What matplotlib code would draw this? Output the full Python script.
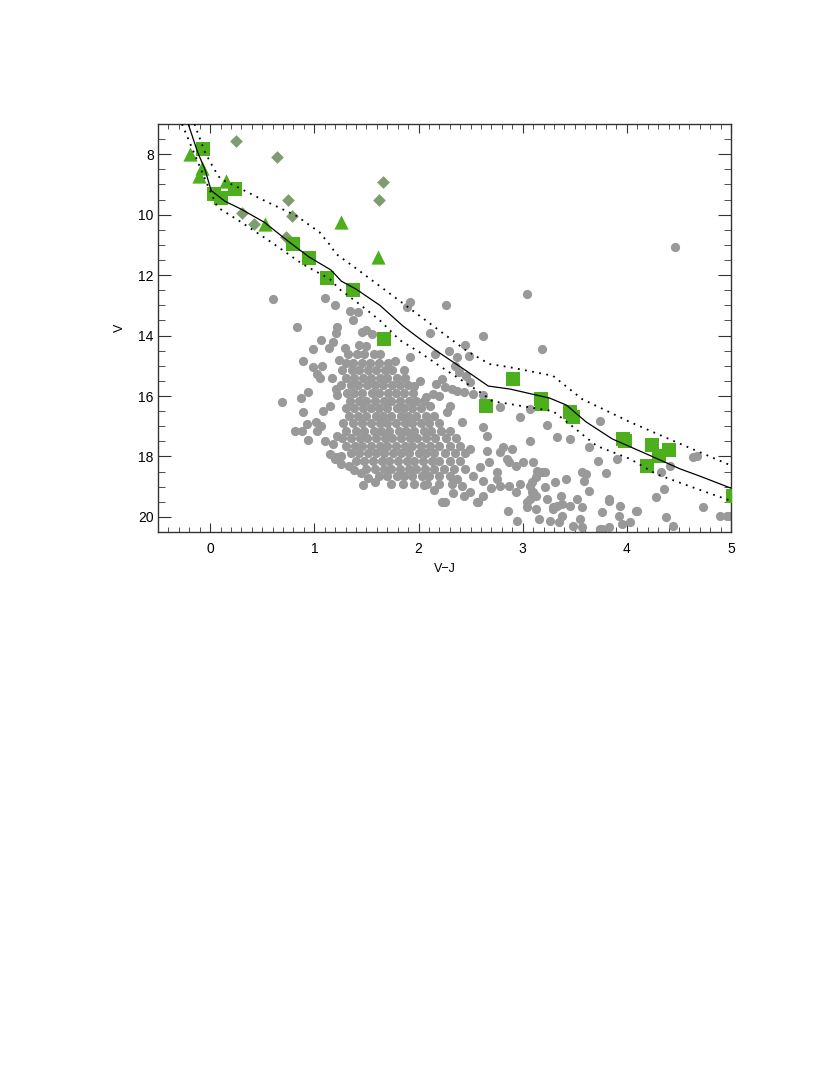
import numpy as np
import matplotlib
matplotlib.use("Agg")
import matplotlib.pyplot as plt
from matplotlib.ticker import MultipleLocator

plt.rcParams['font.family'] = ['Liberation Sans', 'DejaVu Sans']

# isochrone (solid) and the two dotted envelope curves
iso_x = [-0.21, -0.12, -0.05, 0.01, 0.14, 0.30, 0.52, 0.75, 0.95, 1.16, 1.26, 1.40, 1.63, 1.85,
         2.01, 2.17, 2.46, 2.67, 2.88, 3.26, 3.42, 3.61, 3.86, 4.19, 4.51, 4.70, 5.00]
iso_v = [7.0, 7.93, 8.5, 9.2, 9.55, 9.82, 10.25, 10.88, 11.4, 11.83, 12.2, 12.46, 13.0, 13.68,
         14.1, 14.5, 15.17, 15.67, 15.77, 16.07, 16.3, 16.86, 17.42, 17.92, 18.41, 18.65, 19.05]

up_x = [-0.15, -0.05, 0.04, 0.10, 0.30, 0.50, 0.83, 1.05, 1.15, 1.21, 1.41, 1.90, 2.46, 2.68,
        2.88, 3.29, 3.57, 4.03, 4.47, 5.00]
up_v = [7.0, 7.93, 8.5, 8.82, 9.15, 9.5, 10.04, 10.58, 11.0, 11.3, 11.8, 13.06, 14.5, 14.94,
        15.05, 15.33, 16.1, 16.86, 17.52, 18.3]

lo_x = [-0.27, -0.10, -0.02, 0.07, 0.30, 0.57, 0.89, 1.15, 1.24, 1.43, 1.63, 1.82, 2.01, 2.20,
        2.59, 2.71, 3.29, 3.45, 3.71, 4.03, 4.28, 4.67, 5.00]
lo_v = [7.0, 8.4, 9.06, 9.75, 10.25, 10.87, 11.64, 12.13, 12.46, 12.95, 13.5, 14.15, 14.55, 15.0,
        15.87, 16.17, 16.5, 16.93, 17.65, 18.08, 18.58, 19.07, 19.47]

# field stars (grey) - scattered part
field_x = [4.46, 3.04, 3.19, 2.62, 2.26, 1.92, 1.89, 2.11, 2.45, 2.29, 2.16, 2.37, 2.48,
           0.60, 1.10, 1.20, 0.83, 1.34, 1.42, 1.37, 1.46, 1.50, 1.55, 1.22, 1.21, 1.06, 1.18, 1.14, 0.99,
           0.89, 0.99, 1.07, 1.03, 1.05, 1.17, 1.29, 1.24, 1.43, 1.50, 1.77, 1.92,
           0.69, 0.87, 0.94, 0.89, 1.08, 1.15, 1.21, 1.22,
           0.81, 0.88, 0.93, 1.02, 1.06, 1.03, 0.94, 1.10, 1.18, 1.15, 1.21, 1.26, 1.22,
           2.35, 2.39, 2.46, 2.49, 2.52, 2.44, 2.37, 2.23, 2.17, 2.25, 2.32, 2.01, 1.96, 2.07, 2.14, 2.20,
           2.62, 2.78, 2.97, 3.07, 2.62, 2.66, 2.42, 2.30, 2.27, 2.11,
           2.49, 2.66, 2.78, 2.90, 3.07, 2.81, 2.85, 2.87, 2.94, 2.68, 2.59, 2.52, 2.37, 2.42, 2.49,
           2.57, 2.62, 2.25, 2.87, 2.94, 2.86, 2.95, 3.07, 3.10, 3.04, 3.13,
           3.74, 3.64, 3.45, 3.23, 3.33, 3.72, 3.91, 3.80, 3.61, 3.64, 3.83, 3.93, 3.92, 3.95, 3.76,
           4.10, 4.28, 4.36, 4.38, 4.44, 4.33, 4.41, 4.63, 4.67, 4.73, 4.89, 4.96,
           3.52, 3.45, 3.38, 3.33, 3.29, 3.55, 3.48, 3.57, 3.38, 3.35, 3.26, 3.16, 3.13, 3.07, 3.09,
           3.13, 3.21, 3.10, 3.14, 3.21, 3.31, 3.42, 3.37, 3.83, 3.74,
           3.00, 3.19, 2.75, 2.78, 2.97, 3.09, 3.04, 3.23, 3.29, 3.57, 2.23, 2.56, 2.44,
           3.76, 3.83, 4.03, 4.09, 3.57, 3.59, 4.99, 2.70, 2.33, 2.15, 2.05, 2.62, 2.75,
           1.20, 1.26, 1.33, 1.38, 1.45, 1.52, 1.58, 1.47]
field_v = [11.07, 12.63, 14.45, 14.0, 12.98, 12.9, 13.05, 13.9, 14.3, 14.5, 14.6, 14.7, 14.67,
           12.8, 12.77, 13.0, 13.7, 13.2, 13.22, 13.5, 13.87, 13.8, 13.95, 13.72, 13.9, 14.15, 14.2, 14.4, 14.45,
           14.85, 15.05, 15.0, 15.27, 15.4, 15.4, 14.4, 14.8, 14.3, 14.35, 14.85, 14.7,
           16.2, 16.07, 15.87, 16.53, 16.5, 16.33, 15.77, 15.97,
           17.15, 17.15, 16.92, 16.86, 16.99, 17.15, 17.45, 17.49, 17.59, 17.92, 18.02, 17.98, 17.32,
           15.01, 15.21, 15.34, 15.54, 15.93, 15.87, 15.83, 15.44, 15.6, 15.7, 15.77, 15.5, 15.67, 16.03, 15.93, 16.0,
           15.95, 16.36, 16.7, 16.43, 17.02, 17.32, 16.86, 16.33, 16.53, 16.33,
           17.75, 17.82, 17.85, 17.75, 17.49, 17.69, 18.08, 18.18, 18.31, 18.18, 18.35, 18.64, 18.74, 18.98, 19.17,
           19.5, 19.31, 19.5, 18.98, 19.17, 19.8, 20.13, 18.98, 19.17, 19.5, 19.74,
           16.83, 17.69, 17.42, 16.96, 17.36, 18.15, 18.08, 18.55, 18.58, 19.14, 19.4, 19.63, 19.97, 20.23, 19.83,
           19.8, 19.34, 19.07, 20.0, 20.3, 18.51, 18.3, 18.02, 17.98, 19.67, 19.97, 19.97,
           19.4, 19.64, 19.57, 19.64, 19.74, 20.07, 20.3, 20.33, 19.97, 20.17, 20.13, 20.07, 19.31, 19.4, 18.84,
           18.68, 19.01, 18.18, 18.48, 18.51, 18.84, 18.74, 19.31, 20.33, 20.4,
           18.18, 18.51, 18.51, 18.98, 18.91, 19.17, 19.67, 19.4, 19.67, 19.67, 19.5, 19.5, 19.31,
           20.4, 19.47, 20.17, 19.8, 18.51, 18.81, 19.97, 19.05, 19.2, 19.1, 18.95, 18.8, 18.75,
           18.1, 18.25, 18.3, 18.45, 18.55, 18.7, 18.85, 18.95]

# dense core of the field-star cloud, row by row (V level, colours along the row)
core_v = [14.6, 14.9, 15.15, 15.4, 15.65, 15.9, 16.15, 16.4, 16.65, 16.9, 17.15, 17.4, 17.65,
          17.9, 18.15, 18.4, 18.65, 18.9]
core_x = [
    [1.32, 1.41, 1.48, 1.57, 1.63],
    [1.30, 1.37, 1.46, 1.53, 1.62, 1.71],
    [1.27, 1.36, 1.43, 1.52, 1.59, 1.68, 1.75, 1.86],
    [1.30, 1.38, 1.47, 1.54, 1.63, 1.70, 1.79, 1.87],
    [1.26, 1.35, 1.42, 1.51, 1.58, 1.66, 1.75, 1.82, 1.90],
    [1.31, 1.38, 1.46, 1.55, 1.62, 1.71, 1.78, 1.86, 1.95],
    [1.34, 1.43, 1.50, 1.58, 1.67, 1.74, 1.82, 1.91, 1.98, 2.05],
    [1.30, 1.38, 1.47, 1.54, 1.62, 1.70, 1.79, 1.86, 1.94, 2.02],
    [1.33, 1.42, 1.50, 1.59, 1.66, 1.74, 1.83, 1.90, 1.98, 2.07, 2.15],
    [1.28, 1.37, 1.46, 1.54, 1.63, 1.70, 1.78, 1.87, 1.94, 2.02, 2.10, 2.20],
    [1.30, 1.40, 1.48, 1.57, 1.64, 1.72, 1.81, 1.88, 1.96, 2.05, 2.12, 2.22, 2.30],
    [1.27, 1.35, 1.44, 1.51, 1.59, 1.68, 1.75, 1.83, 1.92, 1.99, 2.07, 2.16, 2.26, 2.36],
    [1.30, 1.39, 1.46, 1.54, 1.63, 1.70, 1.78, 1.87, 1.94, 2.02, 2.11, 2.20, 2.30, 2.40],
    [1.35, 1.43, 1.52, 1.59, 1.67, 1.76, 1.83, 1.91, 2.00, 2.07, 2.15, 2.25, 2.35, 2.45],
    [1.40, 1.48, 1.56, 1.65, 1.72, 1.80, 1.89, 1.96, 2.04, 2.13, 2.20, 2.30, 2.40],
    [1.50, 1.58, 1.67, 1.74, 1.82, 1.91, 1.98, 2.06, 2.15, 2.24, 2.34, 2.45],
    [1.62, 1.70, 1.79, 1.86, 1.94, 2.03, 2.10, 2.20, 2.30],
    [1.74, 1.85, 1.96, 2.08, 2.20, 2.32],
]

# members (green squares), candidates (triangles), other (diamonds)
sq_x = [-0.07, 0.24, 0.04, 0.10, 0.80, 0.95, 1.12, 1.37, 1.67, 2.91, 2.65, 3.18, 3.19,
        3.45, 3.48, 3.96, 3.98, 4.24, 4.40, 4.31, 4.19, 5.02]
sq_v = [7.83, 9.16, 9.32, 9.45, 10.97, 11.44, 12.1, 12.5, 14.1, 15.44, 16.32, 16.1, 16.26,
        16.53, 16.7, 17.42, 17.5, 17.62, 17.78, 17.98, 18.3, 19.3]

tri_x = [-0.19, -0.11, -0.08, 0.15, 0.53, 1.26, 1.61]
tri_v = [8.0, 8.72, 8.45, 8.9, 10.3, 10.25, 11.4]

dia_x = [0.25, 0.64, 1.66, 1.62, 0.75, 0.79, 0.31, 0.42, 0.73]
dia_v = [7.57, 8.1, 8.93, 9.52, 9.52, 10.05, 9.95, 10.3, 10.75]

gx = list(field_x)
gv = list(field_v)
for v, xs in zip(core_v, core_x):
    gx += xs
    gv += [v] * len(xs)

fig = plt.figure(figsize=(8.3, 10.75), dpi=100)
ax = fig.add_axes([0.1904, 0.5051, 0.6904, 0.3795])

ax.scatter(gx, gv, s=44, c='#999999', marker='o', linewidths=0, zorder=2)
ax.scatter(dia_x, dia_v, s=42, c='#7f9c70', marker='D', linewidths=0, zorder=3)
ax.scatter(tri_x, tri_v, s=105, c='#4daf1c', marker='^', linewidths=0, zorder=3)
ax.scatter(sq_x, sq_v, s=100, c='#4daf1c', marker='s', linewidths=0, zorder=3)

ax.plot(iso_x, iso_v, color='black', lw=0.9, zorder=4)
ax.plot(up_x, up_v, color='black', lw=1.3, ls=(0, (1, 3)), zorder=4)
ax.plot(lo_x, lo_v, color='black', lw=1.3, ls=(0, (1, 3)), zorder=4)

ax.set_xlim(-0.5, 5)
ax.set_ylim(20.5, 7)
ax.xaxis.set_major_locator(MultipleLocator(1))
ax.xaxis.set_minor_locator(MultipleLocator(0.1))
ax.yaxis.set_minor_locator(MultipleLocator(0.5))
ax.set_yticks([8, 10, 12, 14, 16, 18, 20])

ax.tick_params(which='both', direction='in', top=True, right=True, labelsize=10, color='#333333')
ax.tick_params(axis='x', which='major', length=6.5, pad=7)
ax.tick_params(axis='x', which='minor', length=3.5)
ax.tick_params(axis='y', which='major', length=9.5, pad=3)
ax.tick_params(axis='y', which='minor', length=5)
for sp in ax.spines.values():
    sp.set_linewidth(1.0)
    sp.set_color('#333333')

ax.set_xlabel('V\u2212J', fontsize=9, labelpad=5)
ax.set_ylabel('V', fontsize=9, labelpad=9)

fig.savefig('out.png', dpi=100)
